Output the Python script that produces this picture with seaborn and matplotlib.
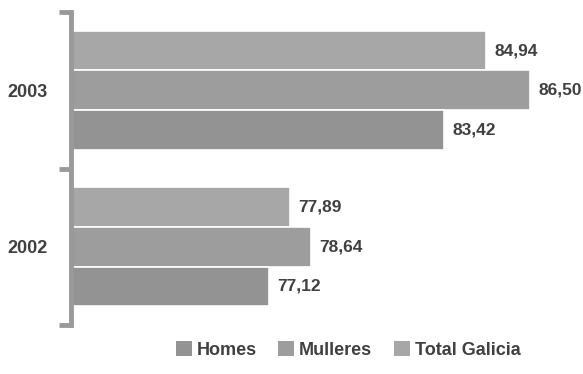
import pandas as pd
import matplotlib.pyplot as plt
import seaborn as sns
from matplotlib.patches import Patch

# datos
anos = ['2003', '2002']
homes = [83.42, 77.12]
mulleres = [86.50, 78.64]
total_galicia = [84.94, 77.89]

series = ['Homes', 'Mulleres', 'Total Galicia']
cores = {'Homes': '#939393', 'Mulleres': '#9d9d9d', 'Total Galicia': '#a7a7a7'}

df = pd.DataFrame({
    'ano': anos * 3,
    'valor': homes + mulleres + total_galicia,
    'serie': ['Homes'] * 2 + ['Mulleres'] * 2 + ['Total Galicia'] * 2,
})

sns.set_style('white')
plt.rcParams['font.family'] = ['Liberation Sans', 'DejaVu Sans']
texto = '#404040'
gris_eixo = '#9a9a9a'

fig = plt.figure(figsize=(5.83, 3.74), dpi=100)
ax = fig.add_axes([71 / 583, 1 - 325 / 374, 1 - 71 / 583, 313 / 374])

# Total Galicia arriba dentro de cada grupo
orde_hue = ['Total Galicia', 'Mulleres', 'Homes']
sns.barplot(data=df, y='ano', x='valor', hue='serie', order=anos, hue_order=orde_hue,
            palette=cores, orient='h', width=0.76, edgecolor='white', linewidth=1.2,
            ax=ax, legend=False)

ax.set_xlim(70, 70 + 512 / 27.8)
ax.set_ylim(1.5, -0.5)

for cont in ax.containers:
    etiquetas = [f'{b.get_width():.2f}'.replace('.', ',') for b in cont]
    ax.bar_label(cont, labels=etiquetas, padding=6, fontsize=12.5, fontweight='bold',
                 color=texto)

# eixo
for s in ['top', 'right', 'bottom']:
    ax.spines[s].set_visible(False)
ax.spines['left'].set_color(gris_eixo)
ax.spines['left'].set_linewidth(3.5)
ax.set_xticks([])
ax.set_xlabel('')
ax.set_ylabel('')
ax.set_yticks([0, 1])
ax.set_yticklabels(anos, fontsize=13, fontweight='bold', color=texto)
ax.tick_params(axis='y', which='major', left=True, length=0, pad=17)
ax.set_yticks([-0.5, 0.5, 1.5], minor=True)
ax.tick_params(axis='y', which='minor', left=True, length=9, width=3.5, color=gris_eixo)

# lenda
manexadores = [Patch(facecolor=cores[s], edgecolor='none') for s in series]
leg = fig.legend(manexadores, series, loc='center', bbox_to_anchor=(348 / 583, 1 - 350 / 374),
                 ncol=3, frameon=False, handlelength=0.9, handleheight=0.9,
                 handletextpad=0.25, columnspacing=1.2,
                 prop={'size': 13, 'weight': 'bold'})
for t in leg.get_texts():
    t.set_color(texto)

fig.savefig('out.png', dpi=100)
